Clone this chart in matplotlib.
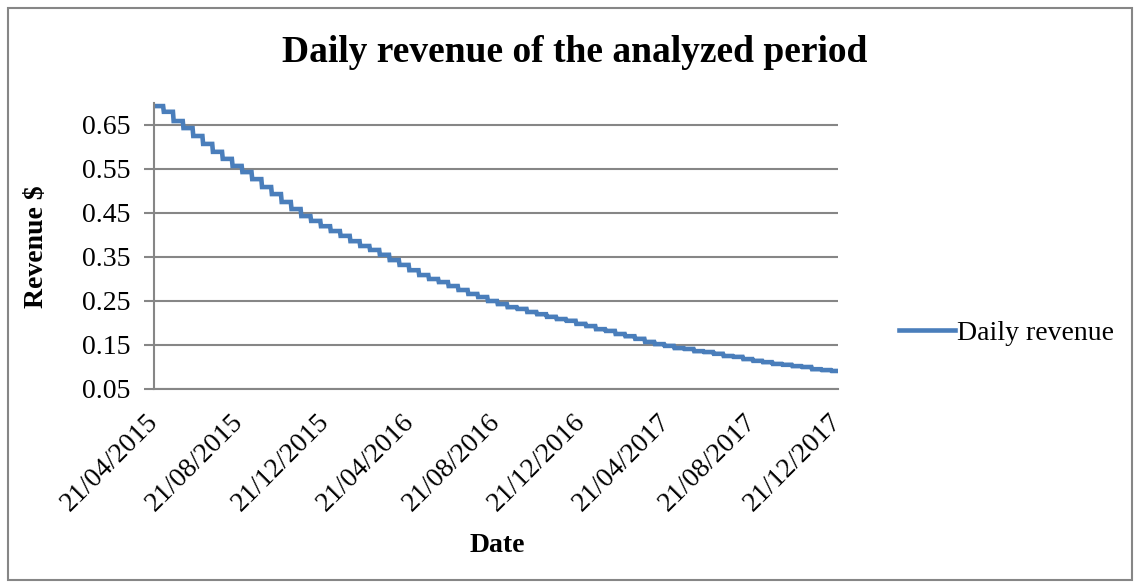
"""
Daily revenue of the analyzed period (step-wise decline every two weeks).
"""

import numpy as np
import pandas as pd
import matplotlib
matplotlib.use('Agg')
import matplotlib.pyplot as plt
import matplotlib.dates as mdates
from matplotlib.patches import Rectangle

# revenue level for each 14-day period starting 21/04/2015
start_date = '2015-04-21'
end_date = '2017-12-21'
period_days = 14
step_revenue = [
    0.693, 0.680, 0.659, 0.643, 0.625, 0.607, 0.589, 0.573, 0.557, 0.543,
    0.527, 0.509, 0.493, 0.475, 0.459, 0.443, 0.432, 0.420, 0.409, 0.398,
    0.386, 0.375, 0.366, 0.355, 0.343, 0.332, 0.320, 0.309, 0.300, 0.293,
    0.284, 0.275, 0.266, 0.259, 0.250, 0.243, 0.236, 0.232, 0.225, 0.220,
    0.214, 0.209, 0.205, 0.198, 0.193, 0.186, 0.182, 0.175, 0.170, 0.164,
    0.157, 0.152, 0.148, 0.143, 0.141, 0.136, 0.134, 0.130, 0.125, 0.123,
    0.118, 0.114, 0.111, 0.107, 0.105, 0.102, 0.100, 0.095, 0.093, 0.091,
]
tick_dates = ['2015-04-21', '2015-08-21', '2015-12-21', '2016-04-21', '2016-08-21',
              '2016-12-21', '2017-04-21', '2017-08-21', '2017-12-21']
y_ticks = [0.05, 0.15, 0.25, 0.35, 0.45, 0.55, 0.65]

# expand the periods into a daily series
days = pd.date_range(start_date, end_date, freq='D')
idx = np.minimum(np.arange(len(days)) // period_days, len(step_revenue) - 1)
daily = pd.Series(np.array(step_revenue)[idx], index=days)

plt.rcParams['font.family'] = ['Liberation Serif', 'DejaVu Serif']
grey = '#868686'
blue = '#4A7EBB'
W, H = 1140, 588

fig = plt.figure(figsize=(W / 100, H / 100), dpi=100)
fig.patches.append(Rectangle((8 / W, 8 / H), 1 - 16 / W, 1 - 16 / H,
                             transform=fig.transFigure, fill=False,
                             edgecolor=grey, linewidth=1.5))
ax = fig.add_axes([154 / W, 1 - 389 / H, (838 - 154) / W, (389 - 103) / H])

ax.plot(daily.index, daily.values, color=blue, linewidth=3.3, label='Daily revenue',
        solid_joinstyle='miter')

ax.set_xlim(pd.Timestamp(start_date), pd.Timestamp(end_date))
ax.set_ylim(0.05, 0.70)
ax.set_yticks(y_ticks)
ax.set_yticklabels(['%.2f' % v for v in y_ticks], fontsize=20)
ax.set_xticks(pd.to_datetime(tick_dates))
ax.xaxis.set_major_formatter(mdates.DateFormatter('%d/%m/%Y'))
for lab in ax.get_xticklabels():
    lab.set_rotation(45)
    lab.set_ha('right')
    lab.set_va('center')
    lab.set_rotation_mode('anchor')
    lab.set_fontsize(20)

ax.grid(axis='y', color=grey, linewidth=1.5)
ax.set_axisbelow(True)
for s in ['top', 'right']:
    ax.spines[s].set_visible(False)
for s in ['left', 'bottom']:
    ax.spines[s].set_color(grey)
    ax.spines[s].set_linewidth(1.5)
ax.tick_params(axis='y', length=7, width=1.5, color=grey, pad=10)
ax.tick_params(axis='x', length=0, pad=21)

ax.set_ylabel('Revenue $', fontsize=20, fontweight='bold', va='center')
ax.yaxis.set_label_coords(37 / W, 1 - 247 / H, transform=fig.transFigure)
ax.set_xlabel('Date', fontsize=20, fontweight='bold', va='center')
ax.xaxis.set_label_coords(497 / W, 1 - 545 / H, transform=fig.transFigure)
fig.suptitle('Daily revenue of the analyzed period', fontsize=27, fontweight='bold',
             x=575 / W, y=1 - 53 / H, va='center')

ax.legend(loc='center left', bbox_to_anchor=(888 / W, 1 - 333 / H),
          bbox_transform=fig.transFigure, frameon=False, fontsize=20,
          handlelength=2.0, handletextpad=0.1, borderaxespad=0)

fig.savefig('out.png', dpi=100)
